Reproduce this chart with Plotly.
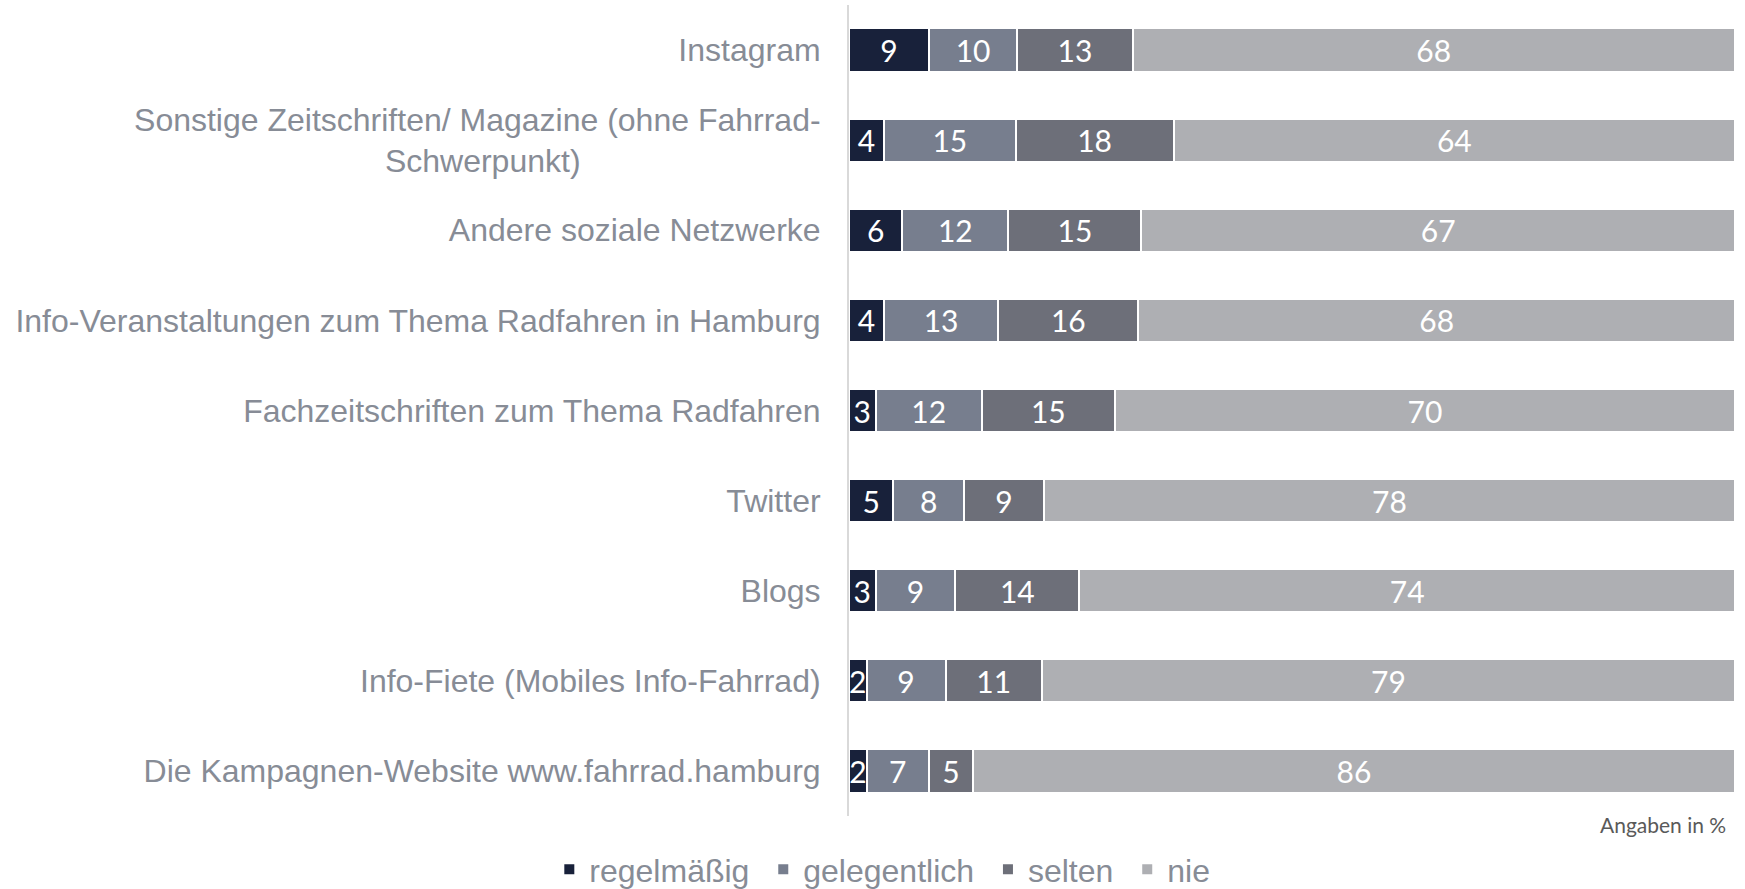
import plotly.graph_objects as go

# categories, top to bottom
categories = [
    "Instagram",
    "Sonstige Zeitschriften/ Magazine (ohne Fahrrad-<br>Schwerpunkt)" + "\u00a0" * 27,
    "Andere soziale Netzwerke",
    "Info-Veranstaltungen zum Thema Radfahren in Hamburg",
    "Fachzeitschriften zum Thema Radfahren",
    "Twitter",
    "Blogs",
    "Info-Fiete (Mobiles Info-Fahrrad)",
    "Die Kampagnen-Website www.fahrrad.hamburg",
]

# values in percent, as labelled in the chart
regelmaessig = [9, 4, 6, 4, 3, 5, 3, 2, 2]
gelegentlich = [10, 15, 12, 13, 12, 8, 9, 9, 7]
selten = [13, 18, 15, 16, 15, 9, 14, 11, 5]
nie = [68, 64, 67, 68, 70, 78, 74, 79, 86]

# trailing nbsp widens the gap between legend entries a little
series = [
    ("regelmäßig\u00a0", regelmaessig, "#18213a"),
    ("gelegentlich\u00a0", gelegentlich, "#777e8e"),
    ("selten\u00a0", selten, "#6d6f79"),
    ("nie", nie, "#aeafb3"),
]

LABEL_COLOR = "#878c96"

# row totals (rounding makes some rows 101) -> scale so every bar fills 100
totals = [sum(row) for row in zip(regelmaessig, gelegentlich, selten, nie)]

fig = go.Figure()

for name, vals, color in series:
    fig.add_trace(go.Bar(
        y=categories,
        x=[v / t * 100 for v, t in zip(vals, totals)],
        name=name,
        orientation="h",
        text=[str(v) for v in vals],
        texttemplate="%{text}",
        textposition="inside",
        insidetextanchor="middle",
        textangle=0,
        constraintext="none",
        textfont=dict(family="Lato", size=30, color="white"),
        marker=dict(color=color, line=dict(color="white", width=2)),
        hoverinfo="skip",
    ))

fig.update_layout(
    width=1745,
    height=889,
    barmode="stack",
    bargap=0.52,
    plot_bgcolor="white",
    paper_bgcolor="white",
    margin=dict(l=849, r=10, t=5, b=73, autoexpand=False),
    font=dict(family="Liberation Sans", size=32, color=LABEL_COLOR),
    xaxis=dict(range=[0, 100], showgrid=False, zeroline=False,
               showticklabels=False, fixedrange=True, automargin=False),
    yaxis=dict(autorange="reversed", showgrid=False, zeroline=False,
               showline=True, linecolor="#d9d9d9", linewidth=2,
               ticks="", ticklabelstandoff=20, automargin=False,
               tickfont=dict(family="Liberation Sans", size=32, color=LABEL_COLOR)),
    legend=dict(orientation="h", xref="paper", yref="paper",
                x=0.0376, xanchor="center", y=-0.066, yanchor="middle",
                font=dict(family="Liberation Sans", size=32, color=LABEL_COLOR),
                itemwidth=30, traceorder="normal", tracegroupgap=0),
    annotations=[dict(text="Angaben in %", xref="paper", yref="paper",
                      x=0.992, y=0.008, xanchor="right", yanchor="top",
                      showarrow=False,
                      font=dict(family="Lato", size=21, color="#595959"))],
)

# page has a default body margin; drop it so the chart sits at the window corner
fig.write_html("out.html", config={"displayModeBar": False},
               post_script="document.body.style.margin='0';")
